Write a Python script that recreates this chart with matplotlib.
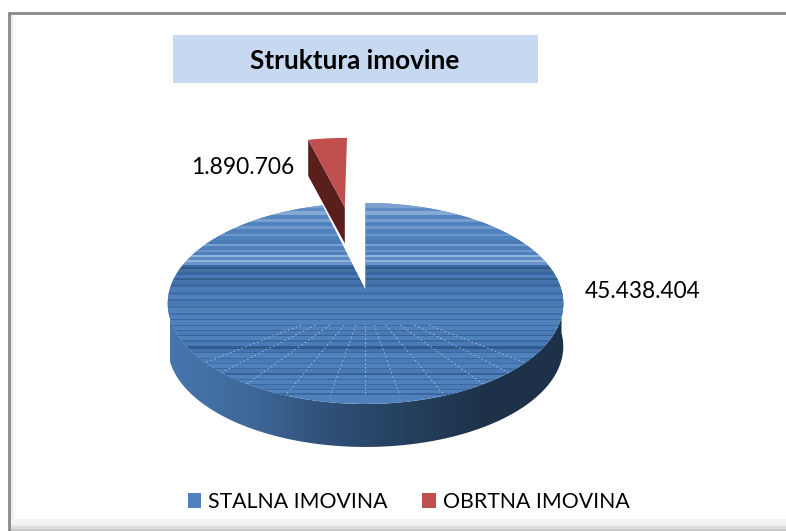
import numpy as np
import matplotlib
matplotlib.use('Agg')
import matplotlib.pyplot as plt
from matplotlib.colors import LinearSegmentedColormap
from matplotlib.transforms import Transform

plt.rcParams['font.family'] = ['Lato', 'DejaVu Sans']

labels = ['STALNA IMOVINA', 'OBRTNA IMOVINA']
values = [45438404, 1890706]
value_labels = ['45.438.404', '1.890.706']
colors = ['#4f81bd', '#c0504d']
title = 'Struktura imovine'

# banding on the top face, (first pixel row, colour)
bands = [(203, '#7ba0d0'), (208, '#5f8cc4'), (211, '#86a8d5'), (215, '#5585c0'), (219, '#7ba0d0'),
         (222, '#4f81bd'), (226, '#7098cc'), (229, '#4f81bd'), (234, '#6f97cb'), (236, '#4f81bd'),
         (240, '#4a7bb7'), (244, '#7ba0d0'), (246, '#4f81bd'), (250, '#6f97cb'), (252, '#4f81bd'),
         (255, '#8fb0da'), (257, '#5d8ac3'), (260, '#94b3dc'), (262, '#6a94ca'), (265, '#3c6aa1'),
         (267, '#2f5a8f'), (269, '#43719f'), (272, '#38679f'), (275, '#4a7ab5'), (278, '#33608f'),
         (280, '#4373ad'), (284, '#3a689f'), (287, '#4a7bb7'), (292, '#3f6ea8'), (295, '#4f81bd'),
         (299, '#3c6aa1'), (301, '#4a7bb7'), (306, '#44739f'), (308, '#4f81bd'), (313, '#3f6ea8'),
         (315, '#4f81bd'), (319, '#3a689f'), (320, '#4f81bd'), (325, '#3a689f'), (326, '#4f81bd'),
         (330, '#3a689f'), (331, '#4a7bb7'), (335, '#35629a'), (336, '#4f81bd'), (340, '#3a689f'),
         (342, '#4a7bb7'), (346, '#2f5a8f'), (349, '#4474ae'), (352, '#3a689f'), (353, '#4f81bd'),
         (358, '#3a689f'), (359, '#4a7bb7'), (363, '#3f6ea8'), (364, '#4f81bd'), (368, '#3a689f'),
         (369, '#4a7bb7'), (373, '#35629a'), (375, '#4f81bd'), (379, '#3a689f'), (380, '#4f81bd'),
         (384, '#3a689f'), (385, '#4a7bb7'), (389, '#3a689f'), (390, '#4f81bd'), (393, '#3a689f'),
         (395, '#4f81bd')]
band_end = 396
ray_ends = [120, 175, 230, 285, 330, 365, 400, 445, 500, 555, 610]
side_shades = ['#4676ae', '#3f6899', '#2f5078', '#25405f', '#1d3249', '#1d3249']


class Tilt(Transform):
    # unit pie -> image pixels, perspective view from the front
    input_dims = 2
    output_dims = 2
    is_separable = False

    def transform_non_affine(self, values):
        v = np.asarray(values, float)
        w = 1 + 0.134 * v[:, 1]
        return np.column_stack((365.5 + 196 * v[:, 0] / w, 290 - 98.7 * v[:, 1] / w))


tilt = Tilt()
fig = plt.figure(figsize=(7.86, 5.31), dpi=100)
ax = fig.add_axes([0, 0, 1, 1])

wedges, _ = ax.pie(values, colors=colors, startangle=90, counterclock=False, explode=[0, 0.95],
                   wedgeprops={'linewidth': 0})
blue, red = wedges
for w in wedges:
    w.set_transform(tilt + ax.transData)
    w.set_zorder(4)

ax.set_aspect('auto')
ax.set_xlim(0, 786)
ax.set_ylim(531, 0)
ax.axis('off')

# side wall of the big slice
t = np.radians(np.linspace(180, 360, 120))
rim = tilt.transform(np.column_stack((np.cos(t), np.sin(t))))
wall = np.vstack((rim, (rim + [0, 43])[::-1]))
wall_patch = ax.fill(wall[:, 0], wall[:, 1], color='none', lw=0)[0]
cmap = LinearSegmentedColormap.from_list('side', side_shades)
im = ax.imshow(np.linspace(0, 1, 256).reshape(1, -1), extent=(170, 564, 450, 280), cmap=cmap,
               aspect='auto', zorder=2)
im.set_clip_path(wall_patch)
ax.set_xlim(0, 786)
ax.set_ylim(531, 0)

# side wall of the small slice
a = np.radians(red.theta2)
cx, cy = red.center
edge = tilt.transform(np.array([[cx + np.cos(a), cy + np.sin(a)], [cx, cy]]))
red_side = np.vstack((edge, edge[::-1] + [0, 36]))
ax.fill(red_side[:, 0], red_side[:, 1], color='#5a1f1c', lw=0, zorder=3)

# banding and the grid artefacts, clipped to the top face
starts = [b[0] for b in bands] + [band_end]
for i, (y, c) in enumerate(bands):
    s = ax.axhspan(starts[i], starts[i + 1], color=c, lw=0, zorder=5, antialiased=False)
    s.set_clip_path(blue)
for xe in ray_ends:
    x0 = 365 + (xe - 365) * (325 - 300) / (396 - 300)
    ln, = ax.plot([x0, xe], [325, 396], color='#c3d5ec', lw=0.6, ls=(0, (2, 3)), alpha=0.8, zorder=6)
    ln.set_clip_path(blue)

# title box
ax.fill([173, 538, 538, 173], [35, 35, 83, 83], color='#c6d9f1', lw=0, zorder=1)
ax.text(355, 61, title, ha='center', va='center', fontsize=18.8, fontweight='bold', color='black', zorder=7)

ax.text(585, 291.5, value_labels[0], ha='left', va='center', fontsize=16.3, color='black', zorder=7)
ax.text(191, 167, value_labels[1], ha='left', va='center', fontsize=16.4, color='black', zorder=7)

ax.legend(wedges, labels, ncol=2, frameon=False, loc='center', bbox_to_anchor=(408.5 / 786, 1 - 502 / 531),
          fontsize=15.3, handlelength=0.65, handleheight=0.65, handletextpad=0.3, columnspacing=1.65,
          labelcolor='black')

# window frame around the pasted chart
ax.plot([786, 9, 9], [12.5, 12.5, 531], color='#888888', lw=2, zorder=8, solid_joinstyle='miter')
for x, c in zip([10.5, 12, 13.5, 15], ['#e4e4e4', '#ececec', '#f4f4f4', '#fafafa']):
    ax.plot([x, x], [14, 519], color=c, lw=1.5, zorder=1)
for y, c in zip([519, 523, 526, 529], ['#f4f4f4', '#eeeeee', '#dddddd', '#c8c8c8']):
    ax.fill([10, 786, 786, 10], [y, y, y + 3.5, y + 3.5], color=c, lw=0, zorder=1)

fig.savefig('out.png', dpi=100)
